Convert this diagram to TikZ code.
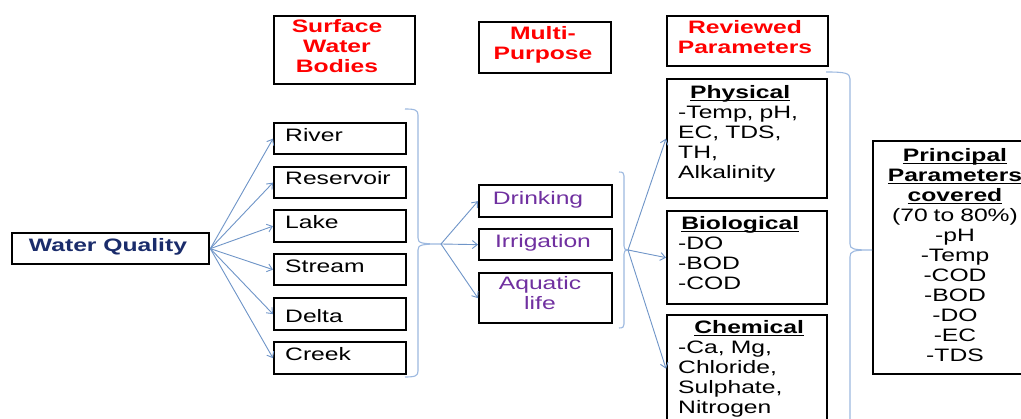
\documentclass[tikz,border=0pt]{standalone}
\usepackage{fontspec}
\setmainfont[FakeStretch=1.37]{Liberation Sans}
\usetikzlibrary{arrows.meta}
\definecolor{arrowblue}{HTML}{6F95C8}
\definecolor{braceblue}{HTML}{9DB9E0}
\definecolor{wqnavy}{HTML}{1A2C6B}
\definecolor{usepurple}{HTML}{7030A0}
\definecolor{hdrred}{HTML}{FF0000}
\newcommand\ulbox[1]{\leavevmode\setbox0\hbox{#1}\rlap{\rule[-2.2pt]{\wd0}{1.3pt}}\box0}
\tikzset{
 box/.style={draw=black, line width=2.3pt, rectangle, inner sep=0pt, anchor=north west},
 txt/.style={font=\fontsize{18}{20}\selectfont, inner sep=0pt},
 hdr/.style={txt, text=hdrred, align=center, text width=170, anchor=base},
 conn/.style={draw=arrowblue, line width=0.9pt, -{Straight Barb[length=5pt,width=8pt]}},
 bracel/.style={draw=braceblue, line width=1.1pt},
}
\newcommand\bx[5]{\node[box, minimum width={#4-#2}, minimum height={#5-#3}] (#1) at (#2,#3) {};}
\begin{document}
\begin{tikzpicture}[x=1pt,y=-1pt]
\useasboundingbox (0,0) rectangle (1021,419);
\clip (0,0) rectangle (1021,419);
\fill[white] (0,0) rectangle (1021,419);

% header boxes
\bx{swb}{273}{15}{414}{83}
\bx{mp}{478}{21}{610}{72}
\bx{rp}{666}{15}{827}{65}
\node[hdr] (swbT) at (337,33) {\bfseries Surface\\Water\\Bodies};
\node[hdr] (mpT) at (543,40) {\bfseries Multi-\\Purpose};
\node[hdr] (rpT) at (745,34) {\bfseries Reviewed\\Parameters};

% main boxes
\bx{wq}{11}{232}{208}{263}
\bx{river}{273}{122}{405}{153}
\bx{res}{273}{166}{405}{197}
\bx{lake}{273}{209}{405}{241}
\bx{stream}{273}{253}{405}{284}
\bx{delta}{273}{297}{405}{329}
\bx{creek}{273}{341}{405}{373}
\bx{drink}{478}{184}{611}{216}
\bx{irr}{478}{228}{611}{259}
\bx{aqua}{478}{272}{611}{322}
\bx{phys}{666}{78}{826}{197}
\bx{bio}{666}{210}{826}{303}
\bx{chem}{666}{314}{826}{421}
\bx{prin}{872}{140}{1045}{373}

% texts
\node[txt, text=wqnavy, anchor=base] (wqT) at (108,252) {\bfseries Water Quality};
\node[txt, anchor=base west] (riverT) at (285,142) {River};
\node[txt, anchor=base west] (resT) at (285,185) {Reservoir};
\node[txt, anchor=base west] (lakeT) at (285,229) {Lake};
\node[txt, anchor=base west] (streamT) at (285,273) {Stream};
\node[txt, anchor=base west] (deltaT) at (285,323) {Delta};
\node[txt, anchor=base west] (creekT) at (285,361) {Creek};
\node[txt, text=usepurple, anchor=base] (drinkT) at (538,205) {Drinking};
\node[txt, text=usepurple, anchor=base] (irrT) at (543,248) {Irrigation};
\node[txt, text=usepurple, anchor=base, align=center, text width=110] (aquaT) at (540,290) {Aquatic\\life};
\node[txt, anchor=base west, align=left, text width=150] (physT) at (678,99)
 {\makebox[124pt][c]{\ulbox{\bfseries Physical}}\\-Temp, pH,\\EC, TDS,\\TH,\\Alkalinity};
\node[txt, anchor=base west, align=left, text width=150] (bioT) at (678,230)
 {\makebox[124pt][c]{\ulbox{\bfseries Biological}}\\-DO\\-BOD\\-COD};
\node[txt, anchor=base west, align=left, text width=150] (chemT) at (678,334)
 {\makebox[142pt][c]{\ulbox{\bfseries Chemical}}\\-Ca, Mg,\\Chloride,\\Sulphate,\\Nitrogen};
\node[txt, anchor=base, align=center, text width=240] (prinT) at (955,162)
 {\ulbox{\bfseries Principal}\\\ulbox{\bfseries Parameters}\\\ulbox{\bfseries covered}\\(70 to 80\%)\\-pH\\-Temp\\-COD\\-BOD\\-DO\\-EC\\-TDS};

% braces
\coordinate (b1) at (441,244);
\coordinate (b2) at (628,250);
\coordinate (b3) at (872,250);
\draw[bracel] (405,109) .. controls (415,109) and (418,110) .. (418,115) -- (418,238)
  .. controls (418,243) and (421,244) .. (b1)
  .. controls (421,244) and (418,245) .. (418,250) -- (418,371)
  .. controls (418,376) and (415,377) .. (405,377);
\draw[bracel] (619,172) .. controls (623,172) and (624,173) .. (624,176) -- (624,246)
  .. controls (624,249) and (625,250) .. (b2)
  .. controls (625,250) and (624,251) .. (624,254) -- (624,324)
  .. controls (624,327) and (623,328) .. (619,328);
\draw[bracel] (826,72) .. controls (845,72) and (850,73) .. (850,79) -- (850,244)
  .. controls (850,249) and (853,250) .. (b3)
  .. controls (853,250) and (850,251) .. (850,257) -- (850,430);

% connectors
\foreach \t in {river,res,lake,stream,delta,creek}{\draw[conn] (wq.east) -- (\t.west);}
\foreach \t in {drink,irr,aqua}{\draw[conn] (b1) -- (\t.west);}
\foreach \t in {phys,bio,chem}{\draw[conn] (b2) -- (\t.west);}
\end{tikzpicture}
\end{document}
